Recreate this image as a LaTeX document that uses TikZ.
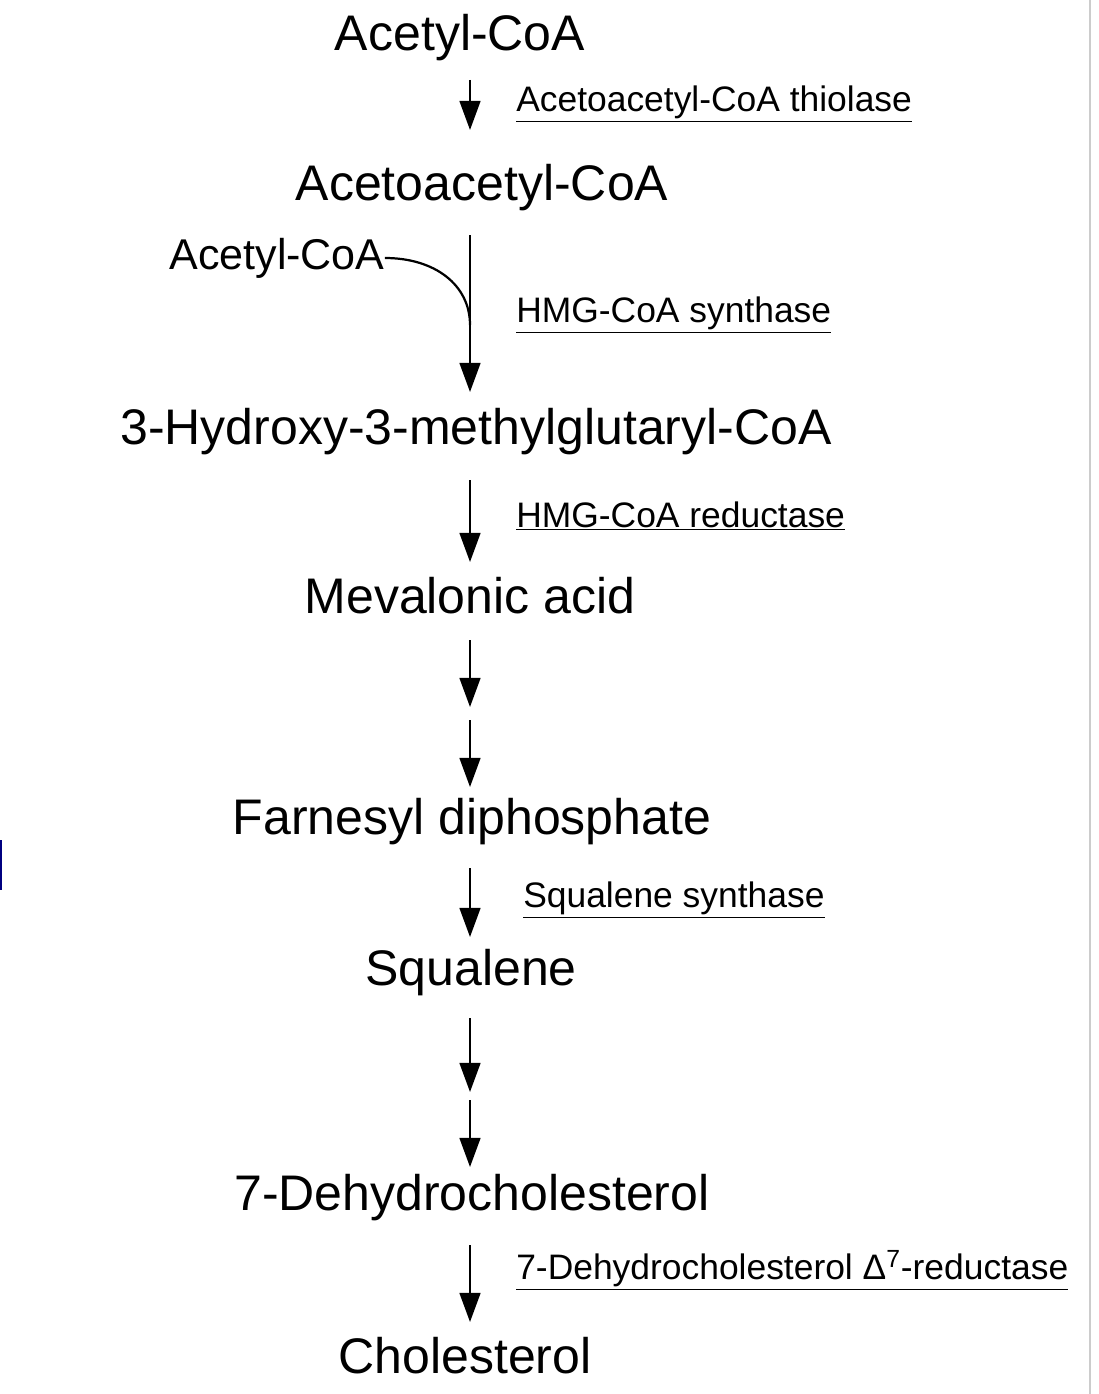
\documentclass[tikz,border=0pt]{standalone}
\usepackage{fontspec}
\setmainfont{Liberation Sans}
\usetikzlibrary{arrows.meta}
\begin{document}
\begin{tikzpicture}[x=0.72pt,y=-0.72pt,
  cmp/.style={font=\fontsize{36}{42}\selectfont, inner sep=0pt},
  enz/.style={font=\fontsize{25.5}{30}\selectfont, inner sep=0pt, anchor=west},
  arr/.style={line width=1.6pt,-{Triangle[length=21pt,width=15pt]}}]
\useasboundingbox (0,0) rectangle (1098,1394);
\draw[gray!40, line width=1.5pt] (1090,0) -- (1090,1394);
\draw[blue!50!black, line width=2pt] (1,840) -- (1,890);
\node[cmp] (a) at (460,38) {Acetyl-CoA};
\node[cmp] (b) at (482,188) {Acetoacetyl-CoA};
\node[cmp, font=\fontsize{31}{36}\selectfont] (c) at (277,258) {Acetyl-CoA};
\node[cmp] (d) at (476,432) {3-Hydroxy-3-methylglutaryl-CoA};
\node[cmp] (e) at (470,596) {Mevalonic acid};
\node[cmp] (f) at (472,822) {Farnesyl diphosphate};
\node[cmp] (g) at (471,973) {Squalene};
\node[cmp] (h) at (472,1198) {7-Dehydrocholesterol};
\node[cmp] (i) at (465,1356) {Cholesterol};
\node[enz] (e1) at (516,104) {\underline{Acetoacetyl-CoA thiolase}};
\node[enz] (e2) at (516,315) {\underline{HMG-CoA synthase}};
\node[enz] (e3) at (516,516) {\underline{HMG-CoA reductase}};
\node[enz] (e4) at (523,900) {\underline{Squalene synthase}};
\node[enz] (e5) at (516,1270) {\underline{7-Dehydrocholesterol Δ\textsuperscript{7}-reductase}};
\coordinate (j) at (470,325);
\draw[arr] (470,80) -- (470,130);
\draw[arr] (470,235) -- (470,392);
\draw[line width=1.6pt] (c.east) .. controls (435,258) and (470,285) .. (j);
\draw[arr] (470,480) -- (470,562);
\draw[arr] (470,640) -- (470,707);
\draw[arr] (470,720) -- (470,787);
\draw[arr] (470,868) -- (470,937);
\draw[arr] (470,1018) -- (470,1092);
\draw[arr] (470,1100) -- (470,1167);
\draw[arr] (470,1245) -- (470,1322);
\end{tikzpicture}
\end{document}
